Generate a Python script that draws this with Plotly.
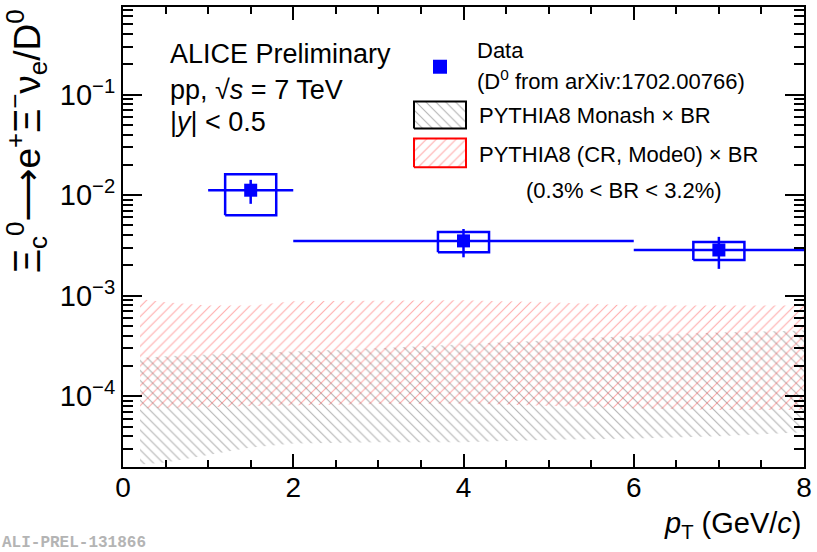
import plotly.graph_objects as go

# Xi_c0 -> e+ Xi- nu_e / D0 ratio, pp 7 TeV
pt = [1.5, 4.0, 7.0]
pt_halfwidth = [0.5, 2.0, 1.0]
ratio = [0.0112, 0.00351, 0.00285]
stat_err = [0.0030, 0.0011, 0.0010]
syst_err = [0.0049, 0.0008, 0.00058]
syst_box_halfwidth = 0.3

# PYTHIA8 bands (lower / upper edge, BR range applied)
model_pt = [0.2, 0.5, 1.0, 1.5, 2.0, 3.0, 4.0, 5.0, 6.0, 7.0, 8.0]
monash_hi = [2.4e-4, 2.5e-4, 2.6e-4, 2.7e-4, 2.8e-4, 3.0e-4, 3.3e-4, 3.6e-4, 4.0e-4, 4.3e-4, 4.5e-4]
monash_lo = [2.1e-5, 2.2e-5, 2.6e-5, 3.1e-5, 3.4e-5, 3.5e-5, 3.5e-5, 3.7e-5, 3.8e-5, 4.0e-5, 4.4e-5]
cr_hi = [9.3e-4, 8.6e-4, 8.0e-4, 8.0e-4, 8.8e-4, 8.9e-4, 9.0e-4, 8.6e-4, 8.0e-4, 8.0e-4, 8.0e-4]
cr_lo = [7.6e-5, 7.6e-5, 7.8e-5, 8.0e-5, 8.2e-5, 8.4e-5, 8.5e-5, 8.0e-5, 7.6e-5, 7.3e-5, 7.3e-5]

x_ticks = [0, 2, 4, 6, 8]
y_ticks = [1e-4, 1e-3, 1e-2, 1e-1]
y_exponents = ["−4", "−3", "−2", "−1"]
y_minor = [m * 10.0 ** e for e in range(-5, 0) for m in range(2, 10)]

W, H = 817, 552
L, R, T, B = 123, 13, 5, 85
PW, PH = W - L - R, H - T - B

BLUE = "#0000ff"
FONT = "Liberation Sans, Arial, Helvetica, sans-serif"
GREY_HATCH = "rgba(60,60,60,0.8)"
RED_HATCH = "rgba(255,40,40,0.8)"


def px_x(p):
    return (p - L) / PW


def px_y(p):
    return (H - B - p) / PH


fig = go.Figure()


def band(x, lo, hi, shape, color):
    return go.Scatter(
        x=list(x) + list(x)[::-1],
        y=list(hi) + list(lo)[::-1],
        mode="lines",
        fill="toself",
        line=dict(width=0),
        fillcolor="rgba(0,0,0,0)",
        fillpattern=dict(shape=shape, fgcolor=color, bgcolor="rgba(0,0,0,0)",
                         size=7, solidity=0.15, fillmode="overlay"),
        hoverinfo="skip",
        showlegend=False,
    )


fig.add_trace(band(model_pt, monash_lo, monash_hi, "\\", GREY_HATCH))
fig.add_trace(band(model_pt, cr_lo, cr_hi, "/", RED_HATCH))

# systematic boxes
for x, y, s in zip(pt, ratio, syst_err):
    x0, x1 = x - syst_box_halfwidth, x + syst_box_halfwidth
    fig.add_trace(go.Scatter(
        x=[x0, x1, x1, x0, x0], y=[y - s, y - s, y + s, y + s, y - s],
        mode="lines", line=dict(color=BLUE, width=2.5),
        hoverinfo="skip", showlegend=False,
    ))

# data points with bin widths and statistical errors
fig.add_trace(go.Scatter(
    x=pt, y=ratio, mode="markers",
    marker=dict(symbol="square", size=13, color=BLUE),
    error_x=dict(type="data", array=pt_halfwidth, width=0, thickness=2.5, color=BLUE),
    error_y=dict(type="data", array=stat_err, width=0, thickness=2.5, color=BLUE),
    showlegend=False,
))


# legend swatches on an overlay unit axis
def swatch(x0, x1, y0, y1, shape, fg, edge):
    return go.Scatter(
        x=[x0, x1, x1, x0, x0], y=[y0, y0, y1, y1, y0],
        xaxis="x2", yaxis="y2", mode="lines", fill="toself",
        line=dict(color=edge, width=2),
        fillcolor="rgba(0,0,0,0)",
        fillpattern=dict(shape=shape, fgcolor=fg, bgcolor="rgba(0,0,0,0)",
                         size=7, solidity=0.15, fillmode="overlay"),
        hoverinfo="skip", showlegend=False,
    )


fig.add_trace(swatch(px_x(414), px_x(466), px_y(127), px_y(100), "\\", GREY_HATCH, "black"))
fig.add_trace(swatch(px_x(414), px_x(466), px_y(166), px_y(137), "/", RED_HATCH, "red"))
fig.add_trace(go.Scatter(
    x=[px_x(440)], y=[px_y(65)], xaxis="x2", yaxis="y2", mode="markers",
    marker=dict(symbol="square", size=14, color=BLUE), showlegend=False, hoverinfo="skip",
))

annotations = []


def text(s, x, y, size, xanchor="left", yanchor="middle", **kw):
    annotations.append(dict(
        text=s, x=px_x(x), y=px_y(y), xref="paper", yref="paper",
        xanchor=xanchor, yanchor=yanchor, showarrow=False,
        font=dict(family=FONT, size=size, color="black"), **kw))


text("ALICE Preliminary", 168, 52, 27)
text("pp, √<i>s</i> = 7 TeV", 168, 88, 27)
text("|<i>y</i>| &lt; 0.5", 168, 121, 27)

text("Data", 475, 49, 22)
text("(D<sup>0</sup> from arXiv:1702.00766)", 475, 78, 22)
text("PYTHIA8 Monash × BR", 477, 114, 22)
text("PYTHIA8 (CR, Mode0) × BR", 477, 153, 22)
text("(0.3% &lt; BR &lt; 3.2%)", 524, 189, 22)

text("<i>p</i><sub>T</sub> (GeV/<i>c</i>)", 804, 525, 29, xanchor="right")
text("Ξ<sub>c</sub><sup>0</sup><span style='font-family:DejaVu Sans'>⟶</span>"
     "e<sup>+</sup>Ξ<sup>−</sup>ν<sub>e</sub>/D<sup>0</sup>",
     26, 5, 37, xanchor="center", yanchor="top", textangle=-90)

annotations.append(dict(
    text="<b>ALI-PREL-131866</b>", x=px_x(0), y=px_y(543), xref="paper", yref="paper",
    xanchor="left", yanchor="middle", showarrow=False,
    font=dict(family="Liberation Mono, Courier New, monospace", size=16, color="#b4b4b4")))

fig.update_layout(
    width=W, height=H,
    margin=dict(l=L, r=R, t=T, b=B),
    paper_bgcolor="white", plot_bgcolor="white",
    showlegend=False,
    annotations=annotations,
    xaxis=dict(
        range=[0, 8], tickvals=x_ticks, ticktext=[str(v) for v in x_ticks],
        ticks="inside", ticklen=13, tickwidth=2, tickcolor="black",
        showline=True, linewidth=2, linecolor="black", mirror="ticks",
        showgrid=False, zeroline=False,
        minor=dict(dtick=0.5, ticks="inside", ticklen=7, tickwidth=2, tickcolor="black", showgrid=False),
        tickfont=dict(family=FONT, size=28, color="black"),
        ticklabelstandoff=-6,
    ),
    yaxis=dict(
        type="log", range=[-4.703, -0.129], tickvals=y_ticks,
        ticktext=["10<sup>%s</sup>" % e for e in y_exponents],
        ticks="inside", ticklen=19, tickwidth=2, tickcolor="black",
        showline=True, linewidth=2, linecolor="black", mirror="ticks",
        showgrid=False, zeroline=False,
        minor=dict(tickvals=y_minor, ticks="inside", ticklen=10, tickwidth=2,
                   tickcolor="black", showgrid=False),
        tickfont=dict(family=FONT, size=29, color="black"),
    ),
    xaxis2=dict(range=[0, 1], overlaying="x", visible=False, anchor="y2"),
    yaxis2=dict(range=[0, 1], overlaying="y", visible=False, anchor="x2"),
)

fig.write_html("out.html")
